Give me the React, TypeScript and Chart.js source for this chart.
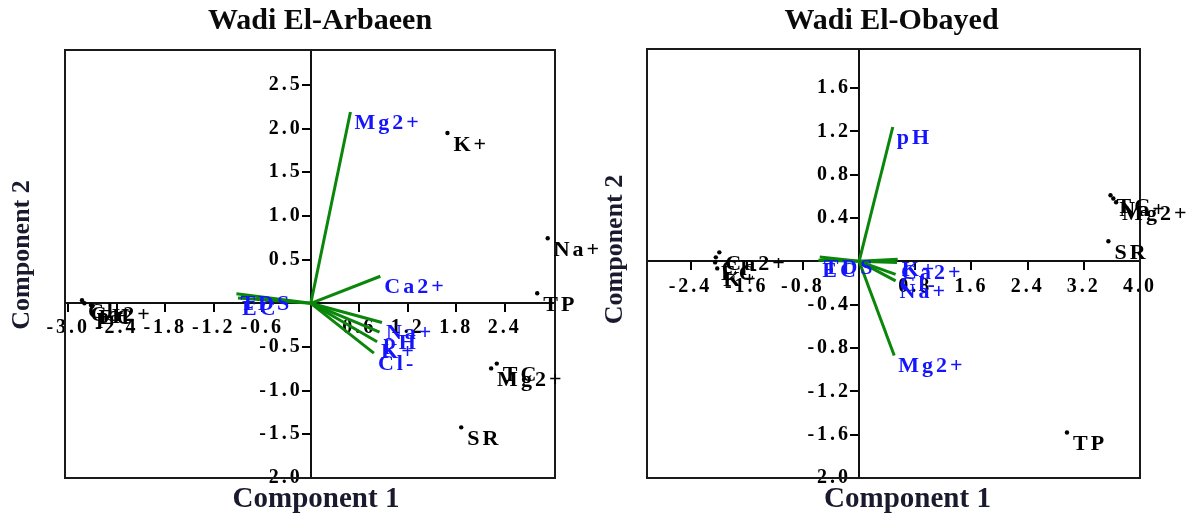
import React, { useEffect, useRef } from "react";
import { Chart, registerables } from "chart.js";

Chart.register(...registerables);

// ---------------- Wadi El-Arbaeen (left panel) ----------------
const arbTitle = "Wadi El-Arbaeen";
const arbXTicks = [-3.0, -2.4, -1.8, -1.2, -0.6, 0.6, 1.2, 1.8, 2.4];
const arbYTicks = [2.5, 2.0, 1.5, 1.0, 0.5, -0.5, -1.0, -1.5, -2.0];
const arbVectorNames = ["Mg2+", "Ca2+", "Na+", "pH", "K+", "Cl-", "TDS", "EC"];
const arbVectorX = [0.49, 0.86, 0.88, 0.85, 0.82, 0.78, -0.92, -0.9];
const arbVectorY = [2.19, 0.31, -0.22, -0.33, -0.44, -0.57, 0.11, 0.06];
const arbPointNames = ["K+", "Na+", "TP", "TC", "Mg2+", "SR", "Cl-", "Ca2+", "EC", "pH"];
const arbPointX = [1.69, 2.93, 2.8, 2.3, 2.23, 1.86, -2.83, -2.8, -2.7, -2.72];
const arbPointY = [1.95, 0.745, 0.115, -0.69, -0.745, -1.42, 0.035, 0.0, -0.03, -0.02];

// ---------------- Wadi El-Obayed (right panel) ----------------
const obaTitle = "Wadi El-Obayed";
const obaXTicks = [-2.4, -1.6, -0.8, 0.8, 1.6, 2.4, 3.2, 4.0];
const obaYTicks = [1.6, 1.2, 0.8, 0.4, -0.4, -0.8, -1.2, -1.6, -2.0];
const obaVectorNames = ["pH", "Mg2+", "K+", "Ca2+", "Cl-", "Na+", "TDS", "EC"];
const obaVectorX = [0.48, 0.5, 0.55, 0.54, 0.52, 0.52, -0.56, -0.58];
const obaVectorY = [1.24, -0.87, 0.02, -0.01, -0.12, -0.18, 0.04, 0.01];
const obaPointNames = ["TC", "Na+", "Mg2+", "SR", "TP", "Ca2+", "Cl-", "EC", "K+"];
const obaPointX = [3.58, 3.62, 3.66, 3.55, 2.96, -1.99, -2.04, -2.05, -2.02];
const obaPointY = [0.61, 0.58, 0.545, 0.185, -1.58, 0.083, 0.037, -0.01, -0.065];

const X_TITLE = "Component 1";
const Y_TITLE = "Component 2";

const GREEN = "#0a860a";
const BLUE = "#1414ff";
const FONT = '"Liberation Serif", "Times New Roman", serif';

const decorPlugin = {
  id: "decor",
  beforeDraw(chart: any) {
    chart.ctx.letterSpacing = "3px";
  },
  beforeDatasetsDraw(chart: any) {
    const ctx = chart.ctx;
    const a = chart.chartArea;
    ctx.save();
    ctx.strokeStyle = "#1a1a1a";
    ctx.lineWidth = 2;
    ctx.strokeRect(a.left, a.top, a.right - a.left, a.bottom - a.top);
    ctx.restore();
  },
  afterDatasetsDraw(chart: any) {
    const ctx = chart.ctx;
    ctx.save();
    ctx.letterSpacing = "3px";
    ctx.font = `bold 22px ${FONT}`;
    ctx.textAlign = "left";
    ctx.textBaseline = "middle";
    chart.data.datasets.forEach((ds: any, i: number) => {
      const meta = chart.getDatasetMeta(i);
      if (ds.kind === "vector") {
        const end = meta.data[1];
        ctx.fillStyle = BLUE;
        ctx.fillText(ds.label, end.x + 4, end.y + 11);
      } else if (ds.kind === "points") {
        ctx.fillStyle = "#000";
        meta.data.forEach((el: any, j: number) => {
          ctx.fillText(ds.names[j], el.x + 6, el.y + 12);
        });
      }
    });
    ctx.restore();
  },
  afterDraw(chart: any, _args: any, o: any) {
    const ctx = chart.ctx;
    const a = chart.chartArea;
    ctx.save();
    ctx.letterSpacing = "0px";
    ctx.fillStyle = "#0a0a0a";
    ctx.textAlign = "center";
    ctx.textBaseline = "middle";
    ctx.font = `bold 30px ${FONT}`;
    ctx.fillText(o.title, (a.left + a.right) / 2 + o.titleDx, 21);
    ctx.fillStyle = "#1a1a2e";
    ctx.font = `bold 29px ${FONT}`;
    ctx.fillText(X_TITLE, (a.left + a.right) / 2 + o.xTitleDx, 500);
    ctx.translate(o.yTitleX, (a.top + a.bottom) / 2 + o.yTitleDy);
    ctx.rotate(-Math.PI / 2);
    ctx.font = `bold 26px ${FONT}`;
    ctx.fillText(Y_TITLE, 0, 0);
    ctx.restore();
  },
};

function makeChart(canvas: HTMLCanvasElement, s: any) {
  const tickFont = { family: FONT, size: 20, weight: "bold" as const };
  const datasets: any[] = [
    ...s.vectorNames.map((n: string, i: number) => ({
      label: n,
      kind: "vector",
      data: [
        { x: 0, y: 0 },
        { x: s.vectorX[i], y: s.vectorY[i] },
      ],
      showLine: true,
      borderColor: GREEN,
      borderWidth: 3,
      pointRadius: 0,
      pointHoverRadius: 0,
    })),
    {
      label: "scores",
      kind: "points",
      names: s.pointNames,
      data: s.pointX.map((x: number, i: number) => ({ x, y: s.pointY[i] })),
      showLine: false,
      pointStyle: "circle",
      pointRadius: 2.2,
      backgroundColor: "#000",
      borderColor: "#000",
      borderWidth: 0,
    },
  ];
  return new Chart(canvas, {
    type: "scatter",
    data: { datasets },
    options: {
      animation: false,
      responsive: false,
      devicePixelRatio: 1,
      events: [],
      layout: { padding: s.padding },
      plugins: {
        legend: { display: false },
        tooltip: { enabled: false },
        title: { display: false },
        decor: {
          title: s.title,
          titleDx: s.titleDx,
          xTitleDx: s.xTitleDx,
          yTitleX: s.yTitleX,
          yTitleDy: s.yTitleDy,
        },
      } as any,
      scales: {
        x: {
          type: "linear",
          position: { y: 0 } as any,
          min: s.xMin,
          max: s.xMax,
          bounds: "data",
          afterBuildTicks: (sc: any) => {
            sc.ticks = s.xTicks.map((v: number) => ({ value: v }));
          },
          ticks: {
            font: tickFont,
            color: "#000",
            padding: 5,
            autoSkip: false,
            minRotation: 0,
            maxRotation: 0,
            callback: (v: any) => Number(v).toFixed(1),
          },
          grid: {
            drawOnChartArea: false,
            drawTicks: true,
            tickLength: 8,
            color: "#000",
            lineWidth: 2,
          },
          border: { display: true, color: "#111", width: 2 },
        },
        y: {
          type: "linear",
          position: { x: 0 } as any,
          min: s.yMin,
          max: s.yMax,
          bounds: "data",
          afterBuildTicks: (sc: any) => {
            sc.ticks = s.yTicks.map((v: number) => ({ value: v }));
          },
          ticks: {
            font: tickFont,
            color: "#000",
            autoSkip: false,
            callback: (v: any) => Number(v).toFixed(1) + " ",
          },
          grid: {
            drawOnChartArea: false,
            drawTicks: true,
            tickLength: 8,
            color: "#000",
            lineWidth: 2,
          },
          border: { display: true, color: "#111", width: 2 },
        },
      },
    } as any,
    plugins: [decorPlugin as any],
  });
}

const arbSpec = {
  title: arbTitle,
  xTicks: arbXTicks,
  yTicks: arbYTicks,
  xMin: -3.04,
  xMax: 3.02,
  yMin: -2.0,
  yMax: 2.9,
  vectorNames: arbVectorNames,
  vectorX: arbVectorX,
  vectorY: arbVectorY,
  pointNames: arbPointNames,
  pointX: arbPointX,
  pointY: arbPointY,
  padding: { left: 65, right: 65, top: 50, bottom: 42 },
  titleDx: 10,
  xTitleDx: 6,
  yTitleX: 22,
  yTitleDy: -9,
};

const obaSpec = {
  title: obaTitle,
  xTicks: obaXTicks,
  yTicks: obaYTicks,
  xMin: -3.02,
  xMax: 4.0,
  yMin: -2.0,
  yMax: 1.96,
  vectorNames: obaVectorNames,
  vectorX: obaVectorX,
  vectorY: obaVectorY,
  pointNames: obaPointNames,
  pointX: obaPointX,
  pointY: obaPointY,
  padding: { left: 54, right: 46, top: 49, bottom: 42 },
  titleDx: -2,
  xTitleDx: 14,
  yTitleX: 22,
  yTitleDy: -14,
};

export default function App() {
  const leftRef = useRef<HTMLCanvasElement>(null);
  const rightRef = useRef<HTMLCanvasElement>(null);
  useEffect(() => {
    const c1 = makeChart(leftRef.current as HTMLCanvasElement, arbSpec);
    const c2 = makeChart(rightRef.current as HTMLCanvasElement, obaSpec);
    return () => {
      c1.destroy();
      c2.destroy();
    };
  }, []);
  return (
    <div style={{ position: "fixed", left: 0, top: 0, width: 1186, height: 520, background: "#fff" }}>
      <canvas
        ref={rightRef}
        width={593}
        height={520}
        style={{ position: "absolute", left: 593, top: 0, width: 593, height: 520 }}
      />
      <canvas
        ref={leftRef}
        width={620}
        height={520}
        style={{ position: "absolute", left: 0, top: 0, width: 620, height: 520 }}
      />
    </div>
  );
}
